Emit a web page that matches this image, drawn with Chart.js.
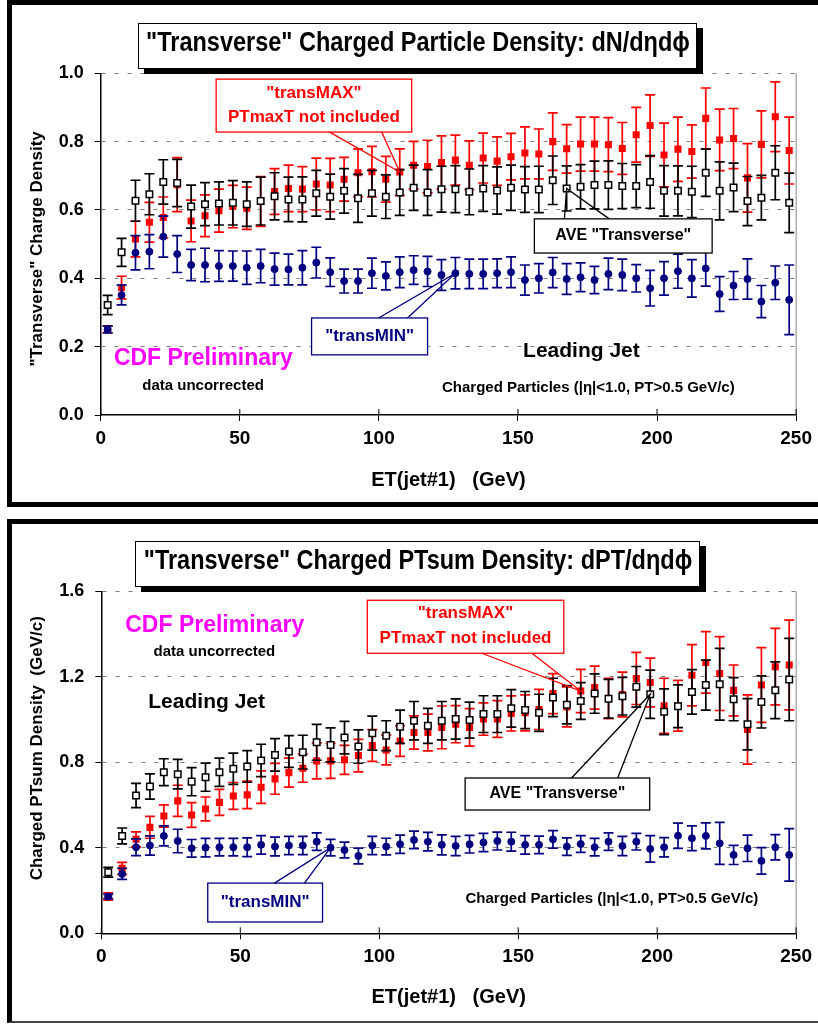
<!DOCTYPE html>
<html>
<head>
<meta charset="utf-8">
<script src="https://cdn.jsdelivr.net/npm/chart.js@4.4.1/dist/chart.umd.min.js"></script>
<style>
  html, body { margin: 0; padding: 0; background: #fff; }
  body { width: 818px; height: 1024px; position: relative; overflow: hidden; }
  .frame { position: absolute; left: 7px; width: 900px; box-sizing: border-box; border: 5px solid #000; }
  #frameTop { top: 0; height: 507px; }
  #frameBot { top: 519px; height: 504px; border-bottom: 2px solid #444; }
  canvas { position: absolute; left: 0; }
  .title { position: absolute; background: #fff; border: 1px solid #000; box-shadow: 6px 5px 0 #000;
           height: 44px; }
  .title span { position: absolute; left: 50%; top: 3px; line-height: 44px; white-space: nowrap;
                font: bold 27px 'Liberation Sans', Arial, sans-serif;
                transform: translateX(-50%) scaleX(0.87); }
</style>
</head>
<body>
<div class="frame" id="frameTop"></div>
<div class="frame" id="frameBot"></div>
<canvas id="topChart" width="818" height="510" style="top:0"></canvas>
<canvas id="botChart" width="818" height="509" style="top:515px"></canvas>
<div class="title" style="left:138px; top:23px; width:557px;"><span>"Transverse" Charged Particle Density: dN/dηdϕ</span></div>
<div class="title" style="left:135px; top:541px; width:563px;"><span>"Transverse" Charged PTsum Density: dPT/dηdϕ</span></div>
<script>
// ET(jet#1) bin centres (GeV)
const ET = [2.5, 7.5, 12.5, 17.5, 22.5, 27.5, 32.5, 37.5, 42.5, 47.5,
  52.5, 57.5, 62.5, 67.5, 72.5, 77.5, 82.5, 87.5, 92.5, 97.5,
  102.5, 107.5, 112.5, 117.5, 122.5, 127.5, 132.5, 137.5, 142.5, 147.5,
  152.5, 157.5, 162.5, 167.5, 172.5, 177.5, 182.5, 187.5, 192.5, 197.5,
  202.5, 207.5, 212.5, 217.5, 222.5, 227.5, 232.5, 237.5, 242.5, 247.5];

// --- top: charged particle density dN/dηdϕ ---
const densAve = [0.322, 0.476, 0.627, 0.646, 0.682, 0.679, 0.610, 0.617, 0.619, 0.621,
  0.617, 0.626, 0.640, 0.631, 0.631, 0.649, 0.639, 0.656, 0.634, 0.649,
  0.639, 0.651, 0.665, 0.651, 0.661, 0.661, 0.653, 0.663, 0.657, 0.665,
  0.660, 0.660, 0.687, 0.663, 0.668, 0.673, 0.673, 0.670, 0.670, 0.682,
  0.656, 0.656, 0.653, 0.709, 0.656, 0.666, 0.626, 0.636, 0.709, 0.621];
const densAveErr = [0.028, 0.041, 0.06, 0.06, 0.065, 0.069, 0.063, 0.063, 0.063, 0.065,
  0.065, 0.07, 0.069, 0.065, 0.066, 0.067, 0.066, 0.065, 0.07, 0.067,
  0.064, 0.067, 0.066, 0.067, 0.067, 0.069, 0.067, 0.067, 0.069, 0.066,
  0.067, 0.068, 0.071, 0.066, 0.065, 0.07, 0.071, 0.066, 0.063, 0.077,
  0.074, 0.073, 0.075, 0.069, 0.085, 0.071, 0.072, 0.065, 0.079, 0.087];
const densMax = [0.251, 0.373, 0.515, 0.564, 0.578, 0.674, 0.568, 0.583, 0.598, 0.610,
  0.605, 0.625, 0.654, 0.663, 0.661, 0.676, 0.673, 0.690, 0.709, 0.712,
  0.690, 0.711, 0.731, 0.727, 0.739, 0.746, 0.731, 0.752, 0.743, 0.756,
  0.767, 0.764, 0.800, 0.779, 0.793, 0.793, 0.791, 0.780, 0.820, 0.847,
  0.761, 0.778, 0.771, 0.868, 0.805, 0.809, 0.694, 0.792, 0.873, 0.774];
const densMaxErr = [0.01, 0.033, 0.052, 0.058, 0.06, 0.079, 0.061, 0.061, 0.063, 0.062,
  0.062, 0.073, 0.067, 0.068, 0.066, 0.076, 0.078, 0.064, 0.07, 0.074,
  0.067, 0.068, 0.07, 0.077, 0.078, 0.073, 0.071, 0.073, 0.071, 0.068,
  0.076, 0.073, 0.084, 0.071, 0.079, 0.079, 0.079, 0.076, 0.08, 0.09,
  0.093, 0.094, 0.078, 0.089, 0.09, 0.088, 0.1, 0.098, 0.102, 0.098];
const densMin = [0.25, 0.351, 0.475, 0.478, 0.522, 0.471, 0.439, 0.439, 0.436, 0.436,
  0.431, 0.436, 0.427, 0.426, 0.431, 0.446, 0.418, 0.392, 0.392, 0.415,
  0.407, 0.418, 0.424, 0.420, 0.410, 0.415, 0.413, 0.413, 0.415, 0.418,
  0.395, 0.400, 0.417, 0.398, 0.403, 0.395, 0.413, 0.410, 0.400, 0.371,
  0.400, 0.421, 0.400, 0.429, 0.354, 0.379, 0.398, 0.332, 0.387, 0.337];
const densMinErr = [0.01, 0.029, 0.05, 0.05, 0.06, 0.054, 0.046, 0.049, 0.045, 0.044,
  0.049, 0.049, 0.047, 0.045, 0.05, 0.045, 0.042, 0.035, 0.035, 0.044,
  0.041, 0.045, 0.042, 0.044, 0.045, 0.046, 0.043, 0.043, 0.042, 0.045,
  0.044, 0.043, 0.044, 0.045, 0.042, 0.04, 0.046, 0.046, 0.04, 0.052,
  0.049, 0.05, 0.055, 0.052, 0.051, 0.041, 0.059, 0.047, 0.049, 0.102];

// --- bottom: charged PTsum density dPT/dηdϕ (GeV/c) ---
const ptAve = [0.286, 0.456, 0.645, 0.687, 0.754, 0.745, 0.710, 0.731, 0.754, 0.770,
  0.781, 0.809, 0.835, 0.851, 0.848, 0.894, 0.882, 0.916, 0.874, 0.937,
  0.925, 0.967, 0.995, 0.971, 0.995, 1.003, 0.998, 1.026, 1.026, 1.053,
  1.045, 1.032, 1.104, 1.070, 1.087, 1.122, 1.098, 1.110, 1.154, 1.119,
  1.037, 1.063, 1.130, 1.162, 1.166, 1.096, 0.979, 1.083, 1.138, 1.188];
const ptAveErr = [0.023, 0.037, 0.057, 0.059, 0.063, 0.069, 0.066, 0.066, 0.066, 0.073,
  0.074, 0.076, 0.076, 0.074, 0.079, 0.084, 0.08, 0.076, 0.078, 0.08,
  0.07, 0.078, 0.09, 0.082, 0.09, 0.094, 0.084, 0.086, 0.086, 0.088,
  0.087, 0.087, 0.09, 0.09, 0.086, 0.092, 0.091, 0.088, 0.095, 0.113,
  0.107, 0.1, 0.104, 0.117, 0.168, 0.101, 0.12, 0.122, 0.133, 0.193];
const ptMax = [0.172, 0.304, 0.440, 0.496, 0.549, 0.620, 0.554, 0.582, 0.613, 0.643,
  0.648, 0.684, 0.723, 0.752, 0.773, 0.807, 0.807, 0.812, 0.832, 0.879,
  0.858, 0.900, 0.940, 0.940, 0.964, 0.979, 0.964, 1.003, 1.003, 1.029,
  1.032, 1.048, 1.122, 1.060, 1.134, 1.150, 1.099, 1.118, 1.193, 1.174,
  1.065, 1.065, 1.208, 1.268, 1.216, 1.137, 0.954, 1.162, 1.248, 1.256];
const ptMaxErr = [0.017, 0.028, 0.035, 0.051, 0.052, 0.073, 0.058, 0.056, 0.061, 0.063,
  0.064, 0.076, 0.072, 0.068, 0.066, 0.084, 0.082, 0.068, 0.076, 0.074,
  0.07, 0.072, 0.078, 0.086, 0.1, 0.087, 0.088, 0.076, 0.086, 0.082,
  0.084, 0.094, 0.094, 0.094, 0.101, 0.101, 0.094, 0.105, 0.122, 0.114,
  0.129, 0.119, 0.143, 0.144, 0.173, 0.119, 0.162, 0.175, 0.179, 0.21];
const ptMin = [0.172, 0.278, 0.403, 0.411, 0.456, 0.432, 0.398, 0.401, 0.403, 0.403,
  0.403, 0.414, 0.406, 0.411, 0.411, 0.429, 0.401, 0.390, 0.362, 0.411,
  0.406, 0.417, 0.437, 0.429, 0.414, 0.409, 0.417, 0.425, 0.432, 0.429,
  0.414, 0.414, 0.440, 0.406, 0.418, 0.403, 0.429, 0.409, 0.429, 0.395,
  0.403, 0.457, 0.445, 0.456, 0.421, 0.367, 0.398, 0.339, 0.403, 0.367];
const ptMinErr = [0.01, 0.026, 0.039, 0.045, 0.047, 0.055, 0.041, 0.043, 0.041, 0.041,
  0.044, 0.043, 0.044, 0.043, 0.043, 0.041, 0.039, 0.037, 0.037, 0.043,
  0.039, 0.043, 0.041, 0.043, 0.047, 0.045, 0.041, 0.043, 0.042, 0.044,
  0.043, 0.041, 0.041, 0.041, 0.039, 0.041, 0.041, 0.045, 0.039, 0.062,
  0.045, 0.059, 0.058, 0.061, 0.098, 0.045, 0.062, 0.062, 0.059, 0.123];

const RED = '#ff0000', NAVY = '#000080', BLACK = '#000000';
const SANS = "'Liberation Sans', Arial, sans-serif";

// vertical error bars, drawn just before each dataset's markers
const errorBars = {
  id: 'errorBars',
  beforeDatasetDraw(chart, args) {
    const ds = chart.data.datasets[args.index];
    if (!ds.errors) return;
    const {ctx, scales: {x, y}} = chart;
    ctx.save();
    ctx.strokeStyle = ds.borderColor;
    ctx.lineWidth = 1.7;
    ds.data.forEach((p, i) => {
      const px = x.getPixelForValue(p.x);
      const lo = y.getPixelForValue(p.y - ds.errors[i]);
      const hi = y.getPixelForValue(p.y + ds.errors[i]);
      ctx.beginPath();
      ctx.moveTo(px, lo); ctx.lineTo(px, hi);
      ctx.moveTo(px - 5, lo); ctx.lineTo(px + 5, lo);
      ctx.moveTo(px - 5, hi); ctx.lineTo(px + 5, hi);
      ctx.stroke();
    });
    ctx.restore();
  }
};

// frame bits, callout boxes and free text, placed in data units
function makeNotes(boxes, notes) {
  return {
    id: 'notes',
    afterDatasetsDraw(chart) {
      const {ctx, chartArea: a, scales: {x, y}} = chart;
      ctx.save();
      // grey right edge of plot
      ctx.strokeStyle = '#888';
      ctx.lineWidth = 1;
      ctx.beginPath();
      ctx.moveTo(a.right, a.top); ctx.lineTo(a.right, a.bottom);
      ctx.stroke();
      // x ticks also poke up into the plot
      ctx.strokeStyle = '#000';
      x.ticks.forEach(t => {
        const px = x.getPixelForValue(t.value);
        ctx.beginPath();
        ctx.moveTo(px, a.bottom - 6); ctx.lineTo(px, a.bottom);
        ctx.stroke();
      });

      boxes.forEach(b => {
        const l = x.getPixelForValue(b.x0), r = x.getPixelForValue(b.x1);
        const t = y.getPixelForValue(b.y1), bt = y.getPixelForValue(b.y0);
        const p = chart.data.datasets[b.series].data[b.point];
        const tx = x.getPixelForValue(p.x), ty = y.getPixelForValue(p.y);
        const ey = b.edge === 'bottom' ? bt : t;
        ctx.fillStyle = '#fff';
        ctx.fillRect(l, t, r - l, bt - t);
        ctx.lineWidth = 1.3;
        ctx.strokeStyle = b.color;
        ctx.strokeRect(l, t, r - l, bt - t);
        ctx.beginPath();
        ctx.moveTo(x.getPixelForValue(b.w0), ey);
        ctx.lineTo(tx, ty);
        ctx.lineTo(x.getPixelForValue(b.w1), ey);
        ctx.stroke();
        ctx.fillStyle = b.color;
        ctx.font = 'bold ' + b.size + 'px ' + SANS;
        ctx.textAlign = 'center';
        ctx.textBaseline = 'middle';
        b.lines.forEach((s, i) => {
          ctx.fillText(s, (l + r) / 2, y.getPixelForValue(b.ty[i]));
        });
      });

      notes.forEach(n => {
        ctx.fillStyle = n.color;
        ctx.font = 'bold ' + n.size + 'px ' + SANS;
        ctx.textAlign = 'center';
        ctx.textBaseline = 'middle';
        ctx.fillText(n.text, x.getPixelForValue(n.x), y.getPixelForValue(n.y));
      });
      ctx.restore();
    }
  };
}

function pts(vals) {
  return vals.map((v, i) => ({x: ET[i], y: v}));
}

function makeChart(id, o) {
  return new Chart(document.getElementById(id), {
    type: 'scatter',
    data: {
      datasets: [
        {label: 'AVE', data: pts(o.ave), errors: o.aveErr, pointStyle: 'rect', pointRadius: 4.6,
         backgroundColor: '#fff', borderColor: BLACK, borderWidth: 1.5},
        {label: 'transMIN', data: pts(o.min), errors: o.minErr, pointStyle: 'circle', pointRadius: 3.5,
         backgroundColor: NAVY, borderColor: NAVY, borderWidth: 1},
        {label: 'transMAX', data: pts(o.max), errors: o.maxErr, pointStyle: 'rect', pointRadius: 5,
         backgroundColor: RED, borderColor: RED, borderWidth: 0}
      ]
    },
    options: {
      responsive: false,
      animation: false,
      devicePixelRatio: 1,
      layout: {padding: {top: o.padTop, right: 21, left: 0, bottom: 0}},
      plugins: {legend: {display: false}, tooltip: {enabled: false}},
      scales: {
        x: {
          type: 'linear', min: 0, max: 250,
          afterFit: s => { s.height = o.xHeight; },
          ticks: {stepSize: 50, color: '#000', padding: 6, font: {family: SANS, size: 19, weight: 'bold'}},
          grid: {drawOnChartArea: false, tickLength: 6, tickColor: '#000'},
          border: {color: '#000', width: 1.5},
          title: {display: true, text: 'ET(jet#1)   (GeV)', color: '#000',
                  font: {family: SANS, size: 20, weight: 'bold'}, padding: {top: 0, bottom: o.xTitlePad}}
        },
        y: {
          min: 0, max: o.yMax,
          afterFit: s => { s.width = o.yWidth; },
          ticks: {stepSize: o.yStep, color: '#000', padding: 11, callback: v => v.toFixed(1),
                  font: {family: SANS, size: 18, weight: 'bold'}},
          grid: {color: c => c.tick && c.tick.value === 0 ? 'rgba(0,0,0,0)' : '#808080',
                 lineWidth: 1, tickLength: 6, tickColor: '#000'},
          border: {color: '#000', width: 1.5, dash: [4, 9]},
          title: {display: true, text: o.yTitle, color: '#000',
                  font: {family: SANS, size: 17, weight: 'bold'}, padding: {top: 27, bottom: 0}}
        }
      }
    },
    plugins: [errorBars, makeNotes(o.boxes, o.notes)]
  });
}

makeChart('topChart', {
  ave: densAve, aveErr: densAveErr, max: densMax, maxErr: densMaxErr, min: densMin, minErr: densMinErr,
  padTop: 73.3, xHeight: 95, xTitlePad: 18, yWidth: 100.7, yMax: 1.0, yStep: 0.2,
  yTitle: '"Transverse" Charge Density  ',
  boxes: [
    {x0: 41.5, x1: 111.8, y0: 0.828, y1: 0.983, edge: 'bottom', w0: 82.3, w1: 101, series: 2, point: 21,
     color: RED, size: 17, lines: ['"transMAX"', 'PTmaxT not included'], ty: [0.942, 0.872]},
    {x0: 155.9, x1: 219.8, y0: 0.474, y1: 0.574, edge: 'top', w0: 166.7, w1: 182.8, series: 0, point: 33,
     color: BLACK, size: 16, lines: ['AVE "Transverse"'], ty: [0.524]},
    {x0: 75.8, x1: 117.5, y0: 0.176, y1: 0.284, edge: 'top', w0: 99.9, w1: 110.3, series: 1, point: 25,
     color: NAVY, size: 17, lines: ['"transMIN"'], ty: [0.231]}
  ],
  notes: [
    {text: 'CDF Preliminary', x: 36.9, y: 0.164, size: 23, color: '#ff00ff'},
    {text: 'data uncorrected', x: 36.8, y: 0.085, size: 15, color: '#000'},
    {text: 'Leading Jet', x: 172.8, y: 0.187, size: 21, color: '#000'},
    {text: 'Charged Particles (|η|<1.0, PT>0.5 GeV/c)', x: 175.3, y: 0.079, size: 15, color: '#000'}
  ]
});

makeChart('botChart', {
  ave: ptAve, aveErr: ptAveErr, max: ptMax, maxErr: ptMaxErr, min: ptMin, minErr: ptMinErr,
  padTop: 76.5, xHeight: 90.7, xTitlePad: 15, yWidth: 101.3, yMax: 1.6, yStep: 0.4,
  yTitle: '      Charged PTsum Density  (GeV/c)',
  boxes: [
    {x0: 95.7, x1: 166.4, y0: 1.311, y1: 1.559, edge: 'bottom', w0: 136.9, w1: 154.9, series: 2, point: 34,
     color: RED, size: 17, lines: ['"transMAX"', 'PTmaxT not included'], ty: [1.498, 1.381]},
    {x0: 130.9, x1: 197.3, y0: 0.577, y1: 0.727, edge: 'top', w0: 169.2, w1: 185.8, series: 0, point: 39,
     color: BLACK, size: 16, lines: ['AVE "Transverse"'], ty: [0.652]},
    {x0: 38.3, x1: 79.6, y0: 0.053, y1: 0.235, edge: 'top', w0: 62.3, w1: 73.1, series: 1, point: 16,
     color: NAVY, size: 17, lines: ['"transMIN"'], ty: [0.144]}
  ],
  notes: [
    {text: 'CDF Preliminary', x: 40.8, y: 1.442, size: 23, color: '#ff00ff'},
    {text: 'data uncorrected', x: 40.7, y: 1.316, size: 15, color: '#000'},
    {text: 'Leading Jet', x: 37.9, y: 1.082, size: 21, color: '#000'},
    {text: 'Charged Particles (|η|<1.0, PT>0.5 GeV/c)', x: 183.7, y: 0.161, size: 15, color: '#000'}
  ]
});
</script>
</body>
</html>
